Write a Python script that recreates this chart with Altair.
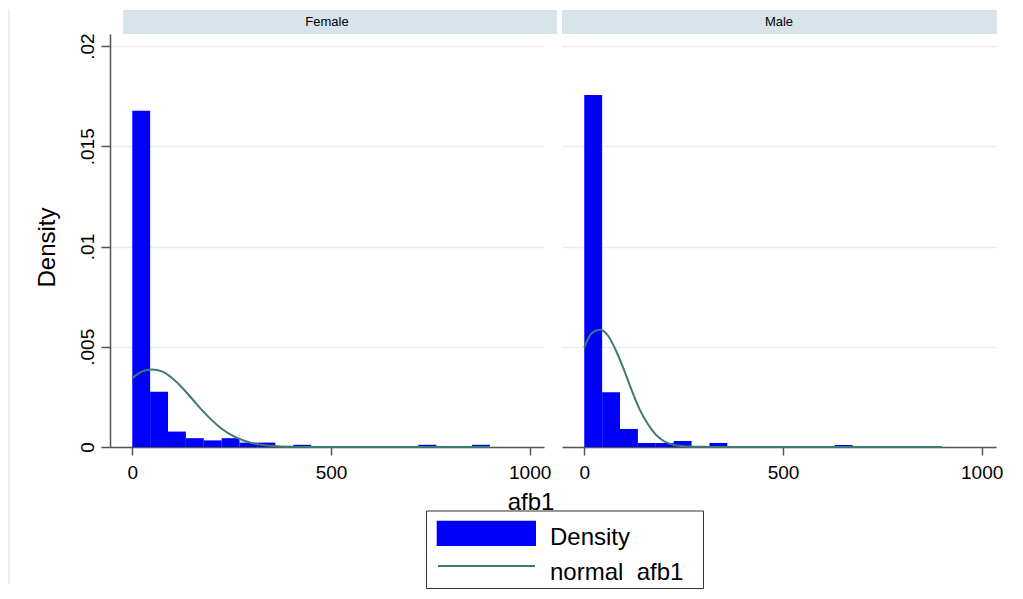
import altair as alt
import pandas as pd

# ---- data ----
panels = ["Female", "Male"]
bin_lo = [0, 45, 90, 135, 180, 225, 270, 315, 360, 405, 450, 495, 540, 585, 630, 675, 720, 765, 810, 855]
bin_hi = [45, 90, 135, 180, 225, 270, 315, 360, 405, 450, 495, 540, 585, 630, 675, 720, 765, 810, 855, 900]
female_density = [0.01677, 0.00275, 0.00077, 0.00044, 0.00033, 0.00044, 0.00022, 0.00022, 0.0, 0.00011,
                  0.0, 0.0, 0.0, 0.0, 0.0, 0.0, 0.00011, 0.0, 0.0, 0.00011]
male_density = [0.01756, 0.00273, 0.00090, 0.00020, 0.00020, 0.00030, 0.0, 0.00020, 0.0, 0.0,
                0.0, 0.0, 0.0, 0.0, 0.00010, 0.0, 0.0, 0.0, 0.0, 0.0]

female_curve_x = [0, 25, 50, 75, 100, 125, 150, 175, 200, 225, 250, 275, 300, 325, 350, 400, 450, 500, 600, 700, 800, 900]
female_curve_y = [0.00343, 0.00377, 0.00387, 0.00377, 0.00344, 0.00297, 0.00242, 0.00185, 0.00134, 0.00091,
                  0.00059, 0.00036, 0.00020, 0.00011, 0.00006, 0.00001, 0.0, 0.0, 0.0, 0.0, 0.0, 0.0]
male_curve_x = [0, 20, 40, 60, 80, 100, 120, 140, 160, 180, 200, 220, 250, 300, 350, 400, 500, 600, 700, 800, 900]
male_curve_y = [0.00497, 0.00570, 0.00585, 0.00555, 0.00480, 0.00385, 0.00280, 0.00185, 0.00115, 0.00062,
                0.00030, 0.00013, 0.00004, 0.00001, 0.0, 0.0, 0.0, 0.0, 0.0, 0.0, 0.0]

x_ticks = [0, 500, 1000]
y_ticks = [0, 0.005, 0.01, 0.015, 0.02]
x_title = "afb1"
y_title = "Density"
legend_labels = ["Density", "normal\u00a0 afb1"]

# ---- style ----
FONT = "Liberation Sans"
BAR = "#0000ff"
CURVE = "#3d7b72"
STRIP = "#d8e4ea"
GRID = "#e6eef0"
AXIS = "#555555"
W, H = 434, 413

xscale = alt.Scale(domain=[-56, 1036], nice=False, zero=False)
yscale = alt.Scale(domain=[0, 0.0206], nice=False, zero=False)

xaxis = alt.Axis(values=x_ticks, title=None, grid=False, labelFlush=False, format="d",
                 labelBaseline="alphabetic", labelPadding=23)

one = pd.DataFrame({"k": [0]})


def make_panel(name, dens, cx, cy, first):
    bars_df = pd.DataFrame({"lo": bin_lo, "hi": bin_hi, "density": dens})
    curve_df = pd.DataFrame({"x": cx, "y": cy})
    if first:
        yaxis = alt.Axis(values=y_ticks, grid=True, title=y_title,
                         labelExpr="datum.value == 0 ? '0' : replace(toString(datum.value), '0.', '.')",
                         labelAngle=-90, labelAlign="center", labelBaseline="alphabetic", labelPadding=8,
                         tickSize=9, titleAngle=-90, titleX=-56, titleY=213, titleAlign="center",
                         titleBaseline="alphabetic", titleFontSize=24, titleFont=FONT,
                         titleFontWeight="normal", titleColor="black")
    else:
        yaxis = alt.Axis(values=y_ticks, grid=True, title=None, labels=False, ticks=False, domain=False)

    bars = alt.Chart(bars_df).mark_rect(color=BAR).encode(
        x=alt.X("lo:Q", scale=xscale, axis=xaxis),
        x2="hi:Q",
        y=alt.Y("density:Q", scale=yscale, axis=yaxis),
        y2=alt.datum(0),
    )
    curve = alt.Chart(curve_df).mark_line(color=CURVE, strokeWidth=2, interpolate="monotone").encode(
        x=alt.X("x:Q", scale=xscale, axis=xaxis),
        y=alt.Y("y:Q", scale=yscale, axis=yaxis),
    )
    if first:
        sx0, sx1 = 13, 447
    else:
        sx0, sx1 = 0, 435
    strip = alt.Chart(one).mark_rect(color=STRIP).encode(
        x=alt.value(sx0), x2=alt.value(sx1), y=alt.value(-24), y2=alt.value(0))
    strip_text = alt.Chart(one).mark_text(text=name, font=FONT, fontSize=13, color="black",
                                          align="center", baseline="middle").encode(
        x=alt.value(217), y=alt.value(-12))
    layers = [strip, bars, curve, strip_text]
    if first:
        border = alt.Chart(one).mark_rule(color="#e8f0f2", strokeWidth=2).encode(
            x=alt.value(-101), y=alt.value(-25), y2=alt.value(550))
        title = alt.Chart(one).mark_text(text=x_title, font=FONT, fontSize=24, color="black",
                                         align="center", baseline="alphabetic").encode(
            x=alt.value(421), y=alt.value(476))
        box = alt.Chart(one).mark_rect(fill="white", stroke="#333333", strokeWidth=1).encode(
            x=alt.value(316.5), x2=alt.value(593.5), y=alt.value(477), y2=alt.value(554.5))
        sw_bar = alt.Chart(one).mark_rect(color=BAR).encode(
            x=alt.value(326.7), x2=alt.value(426), y=alt.value(486.7), y2=alt.value(512))
        sw_line = alt.Chart(one).mark_rule(color=CURVE, strokeWidth=2).encode(
            x=alt.value(328), x2=alt.value(425), y=alt.value(532))
        lt1 = alt.Chart(one).mark_text(text=legend_labels[0], font=FONT, fontSize=24, color="black",
                                       align="left", baseline="alphabetic").encode(
            x=alt.value(440), y=alt.value(511))
        lt2 = alt.Chart(one).mark_text(text=legend_labels[1], font=FONT, fontSize=24, color="black",
                                       align="left", baseline="alphabetic").encode(
            x=alt.value(440), y=alt.value(546))
        layers = [border] + layers + [title, box, sw_bar, sw_line, lt1, lt2]
    return alt.layer(*layers).properties(width=W, height=H)


left = make_panel(panels[0], female_density, female_curve_x, female_curve_y, True)
right = make_panel(panels[1], male_density, male_curve_x, male_curve_y, False)

chart = alt.hconcat(left, right, spacing=18, bounds="flush", padding=0).configure_view(
    stroke=None
).configure_axis(
    domainColor=AXIS, domainWidth=1.5, tickColor=AXIS, tickWidth=1.5, tickSize=8,
    labelFont=FONT, labelFontSize=19, labelColor="black",
    gridColor=GRID, gridWidth=1.5,
).configure_axisY(tickSize=9)

chart.save("out.html", embed_options={"renderer": "svg", "actions": False})
